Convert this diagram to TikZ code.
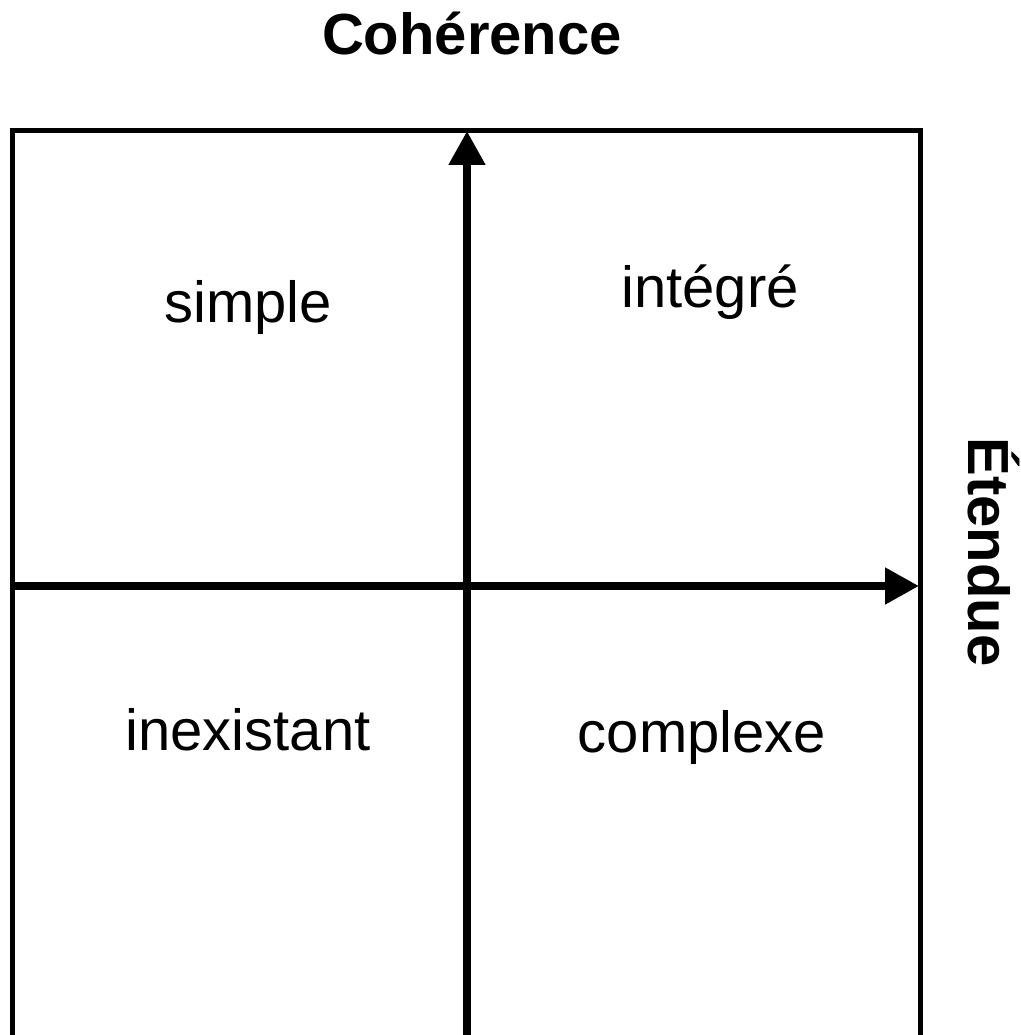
\documentclass[tikz,border=0pt]{standalone}
\usepackage{fontspec}
\setmainfont{Liberation Sans}
\usetikzlibrary{arrows.meta}
\begin{document}
\begin{tikzpicture}[x=1pt,y=1pt,
  frame/.style={line width=5pt},
  axis/.style={line width=8pt,-{Triangle[length=34pt,width=35pt]}},
  lbl/.style={anchor=base,inner sep=0pt,font=\fontsize{58}{70}\selectfont},
  ttl/.style={anchor=base,inner sep=0pt,font=\fontsize{58}{70}\selectfont\bfseries}]
\useasboundingbox (0,0) rectangle (1020,-1035);
\clip (0,0) rectangle (1020,-1035);
\draw[frame] (12.5,-130.5) rectangle (920,-1080);
\coordinate (vbot) at (467,-1080);
\coordinate (vtop) at (467,-131);
\coordinate (hleft) at (10,-586);
\coordinate (hright) at (919,-586);
\draw[axis] (vbot) -- (vtop);
\draw[axis] (hleft) -- (hright);
\node[ttl] (coh) at (472,-55) {Cohérence};
\node[ttl,rotate=-90] (ete) at (968,-552) {Étendue};
\node[lbl] (simple) at (248,-322) {simple};
\node[lbl] (integre) at (710,-307) {intégré};
\node[lbl] (inex) at (248,-750) {inexistant};
\node[lbl] (compl) at (702,-752) {complexe};
\end{tikzpicture}
\end{document}
